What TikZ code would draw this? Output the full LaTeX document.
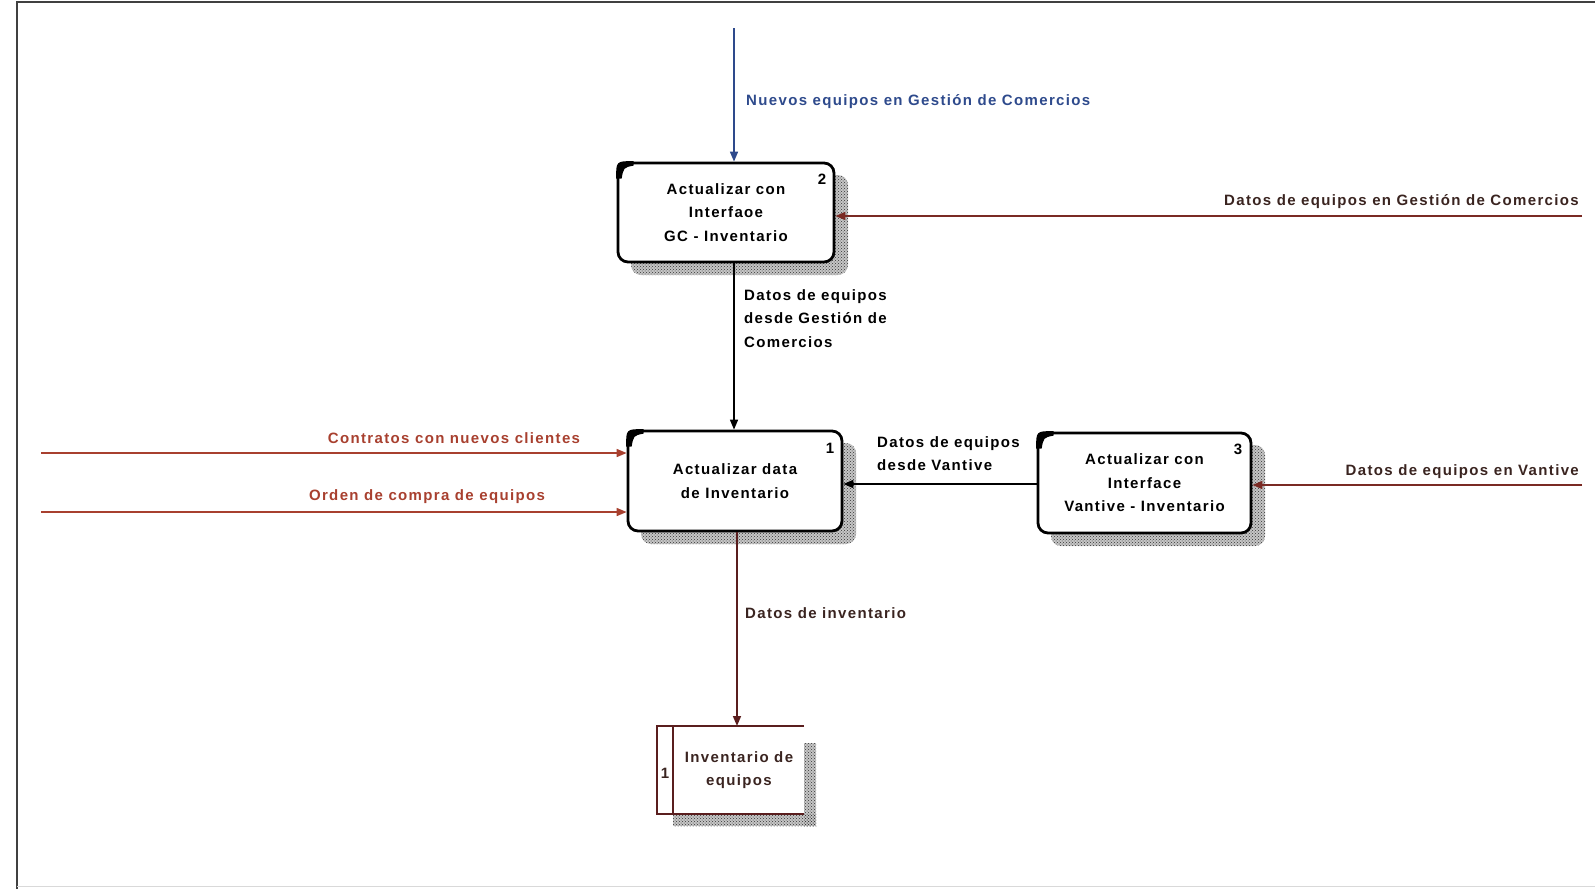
\documentclass[tikz,border=0pt]{standalone}
\usepackage{fontspec}
\setmainfont{Liberation Sans}
\newfontfamily\dfdfont[LetterSpace=9]{Liberation Sans}
\usetikzlibrary{patterns,arrows.meta,calc}
\definecolor{navy}{HTML}{2E4A8C}
\definecolor{redflow}{HTML}{A8402F}
\definecolor{darkflow}{HTML}{7A2A24}
\definecolor{darktext}{HTML}{3A2420}
\definecolor{storecol}{HTML}{5A1E1E}
\tikzset{
  dfd/.style={font=\dfdfont\bfseries\fontsize{15}{23.5}\selectfont},
  proc/.style={dfd, draw=black, line width=2.8pt, rounded corners=10pt, fill=white, align=center, inner sep=0pt},
  shadebase/.style={fill=gray!45},
  shade/.style={pattern=crosshatch dots, pattern color=black!80},
  flow/.style={line width=1.6pt, -{Triangle[length=10pt,width=8pt]}},
  lbl/.style={dfd, inner sep=0pt, align=left},
  num/.style={dfd, inner sep=0pt}
}
\begin{document}
\begin{tikzpicture}[x=1pt,y=-1pt]
\useasboundingbox (0,0) rectangle (1595,889);
% frame
\draw[line width=2pt, black!75] (17,889) -- (17,1.5) -- (1595,1.5);
\draw[line width=1pt, black!15] (17,886) -- (1595,886);

% shadows
\foreach \s in {shadebase,shade}{
  \fill[\s, rounded corners=10pt] (631,175) rectangle (848,275);
  \fill[\s, rounded corners=10pt] (641,443) rectangle (856,544);
  \fill[\s, rounded corners=10pt] (1051,445) rectangle (1265,546);
  \fill[\s] (804,743) rectangle (816,826);
  \fill[\s] (673,814) rectangle (816,826);
}

% processes
\node[proc, minimum width=216pt, minimum height=99pt] (b2) at (726,212.5) {Actualizar con\\Interfaoe\\GC - Inventario};
\node[proc, minimum width=214pt, minimum height=100pt] (b1) at (735,481) {Actualizar data\\de Inventario};
\node[proc, minimum width=213pt, minimum height=100pt] (b3) at (1144.5,483) {Actualizar con\\Interface\\Vantive - Inventario};

\foreach \b in {b1,b2,b3}{
  \fill ($(\b.north west)+(-0.5,17)$) .. controls ($(\b.north west)+(-0.5,-0.5)$) .. ($(\b.north west)+(17,-0.5)$)
        -- ($(\b.north west)+(17,4)$) .. controls ($(\b.north west)+(7,6)$) .. ($(\b.north west)+(5,17)$) -- cycle;
}
\node[num] (n2) at (822,179) {2};
\node[num] (n1) at (830,448) {1};
\node[num] (n3) at (1238,449) {3};

% data store
\draw[storecol, line width=2.4pt] (804,726) -- (657,726) -- (657,814) -- (804,814);
\draw[storecol, line width=2.4pt] (673,726) -- (673,814);
\node[dfd, align=center, inner sep=0pt, text=darktext] (store) at (739,770) {Inventario de\\equipos};
\node[num, text=darktext] (sn) at (665,773) {1};
\coordinate (storetop) at (737,726);

% free ends
\coordinate (topin) at (734,28);
\coordinate (rgc) at (1582,216);
\coordinate (rvan) at (1582,485);
\coordinate (lcon) at (41,453);
\coordinate (lord) at (41,512);

% flows
\draw[flow, navy] (topin) -- (topin |- b2.north);
\node[lbl, text=navy, anchor=west] (l1) at (746,102) {Nuevos equipos en Gestión de Comercios};

\draw[flow, darkflow] (rgc) -- (rgc -| b2.east);
\node[lbl, text=darktext, anchor=east] (l2) at (1579,202) {Datos de equipos en Gestión de Comercios};

\draw[flow, black] (topin |- b2.south) -- (topin |- b1.north);
\node[lbl, text=black, anchor=north west] (l3) at (744,289) {Datos de equipos\\desde Gestión de\\Comercios};

\draw[flow, redflow] (lcon) -- (lcon -| b1.west);
\node[lbl, text=redflow] (l4) at (454,438) {Contratos con nuevos clientes};
\draw[flow, redflow] (lord) -- (lord -| b1.west);
\node[lbl, text=redflow] (l5) at (427,497) {Orden de compra de equipos};

\draw[flow, black] (b3.west |- 0,484) -- (b1.east |- 0,484);
\node[lbl, text=black, anchor=north west] (l6) at (877,436) {Datos de equipos\\desde Vantive};

\draw[flow, darkflow] (rvan) -- (rvan -| b3.east);
\node[lbl, text=darktext, anchor=east] (l7) at (1579,472) {Datos de equipos en Vantive};

\draw[flow, storecol] (b1.south -| storetop) -- (storetop);
\node[lbl, text=darktext, anchor=west] (l8) at (745,613) {Datos de inventario};
\end{tikzpicture}
\end{document}
